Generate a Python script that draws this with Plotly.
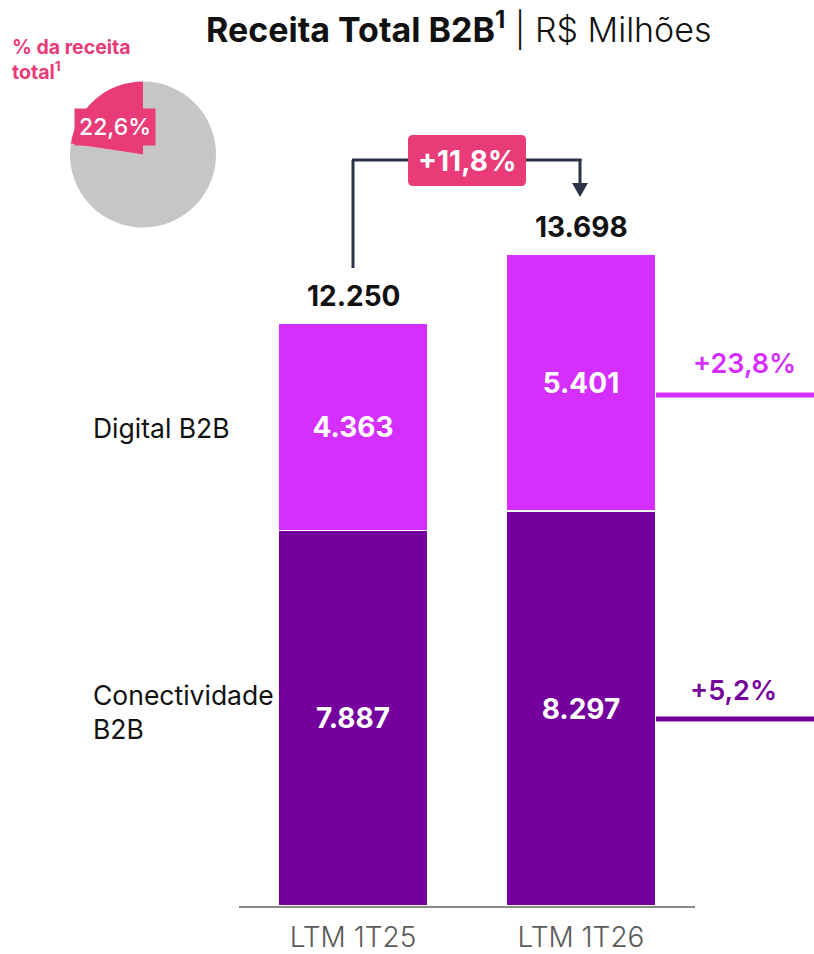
import plotly.graph_objects as go

# ---- data ----
categories = ["LTM 1T25", "LTM 1T26"]
conectividade = [7887, 8297]
digital = [4363, 5401]
totals = [c + d for c, d in zip(conectividade, digital)]
series_names = ["Conectividade<br>B2B", "Digital B2B"]
growth_total = "+11,8%"
growth_digital = "+23,8%"
growth_conect = "+5,2%"
pie_labels = ["Demais", "B2B"]
pie_share = [77.4, 22.6]
pie_label = "22,6%"

W, H = 814, 954
C_DIG = "#D42FFF"
C_CON = "#74009E"
C_PINK = "#E93B78"
C_NAVY = "#2B3445"
FONT = "Inter"


def px(x):
    return x / W


def py(y):
    return 1 - y / H


fig = go.Figure()

fig.add_trace(go.Bar(
    x=categories, y=conectividade, name="Conectividade B2B",
    marker=dict(color=C_CON, line=dict(color="white", width=1.5)),
    width=0.66, texttemplate="<b>%{y:,.0f}</b>", textposition="inside",
    insidetextanchor="middle",
    textfont=dict(family=FONT, size=28, color="white"),
    hoverinfo="skip",
))
fig.add_trace(go.Bar(
    x=categories, y=digital, name="Digital B2B",
    marker=dict(color=C_DIG, line=dict(color="white", width=1.5)),
    width=0.66, texttemplate="<b>%{y:,.0f}</b>", textposition="inside",
    insidetextanchor="middle",
    textfont=dict(family=FONT, size=28, color="white"),
    hoverinfo="skip",
))

fig.add_trace(go.Pie(
    labels=pie_labels, values=pie_share, sort=False, direction="clockwise", rotation=0,
    marker=dict(colors=["#C6C6C6", C_PINK]), textinfo="none",
    domain=dict(x=[px(70), px(216)], y=[py(228), py(81)]),
    showlegend=False, hoverinfo="skip",
))

ymax = 906 / (583 / totals[0])

fig.update_layout(
    width=W, height=H, margin=dict(l=0, r=0, t=0, b=0, autoexpand=False),
    paper_bgcolor="white", plot_bgcolor="white",
    barmode="stack", showlegend=False, separators=",.",
    uniformtext=dict(minsize=10, mode="show"),
    xaxis=dict(domain=[px(239), px(695)], range=[-0.5, 1.5], automargin=False,
               showline=True, linecolor="#8A8A8A", linewidth=1.5,
               ticks="", showgrid=False, zeroline=False, ticklabelstandoff=6,
               tickfont=dict(family=FONT, size=28, color="#5A5A5A", weight=300)),
    yaxis=dict(domain=[1 - 906 / H, 1], range=[0, ymax], visible=False,
               automargin=False, showgrid=False, zeroline=False),
    font=dict(family=FONT),
)


def note(x, y, text, size, color, xanchor="center", weight=None, **kw):
    f = dict(family=FONT, size=size, color=color)
    if weight:
        f["weight"] = weight
    d = dict(x=px(x), y=py(y), xref="paper", yref="paper", showarrow=False,
             xanchor=xanchor, yanchor="middle", text=text, font=f)
    d.update(kw)
    return d


ann = []
ann.append(note(459, 28, "<b>Receita Total B2B<sup>1</sup></b> | R$ Milhões",
                34, "#111111", weight=300))
ann.append(note(10, 60, "<b>% da receita<br>total<sup>1</sup></b>", 19.5, C_PINK,
                xanchor="left", align="left"))
ann.append(note(115, 127, pie_label, 23, "white", weight=500, bgcolor=C_PINK, borderpad=4))
for cat, tot in zip(categories, totals):
    ann.append(dict(x=cat, y=tot, xref="x", yref="y", showarrow=False,
                    xanchor="center", yanchor="bottom", yshift=8,
                    text="<b>" + f"{tot:,}".replace(",", ".") + "</b>",
                    font=dict(family=FONT, size=28, color="#111111")))
ann.append(note(91, 428, series_names[1], 26.5, "#111111", xanchor="left", align="left"))
ann.append(note(91, 712, series_names[0], 26.5, "#111111", xanchor="left", align="left"))
ann.append(note(744, 363, growth_digital, 27, C_DIG, weight=600))
ann.append(note(733, 690, growth_conect, 27, C_CON, weight=600))
ann.append(note(467, 161, "<b>" + growth_total + "</b>", 28, "white"))
fig.update_layout(annotations=ann)

shapes = []
line_n = dict(color=C_NAVY, width=3)
shapes.append(dict(type="line", xref="paper", yref="paper",
                   x0=px(353), x1=px(353), y0=py(268), y1=py(160), line=line_n))
shapes.append(dict(type="line", xref="paper", yref="paper",
                   x0=px(352), x1=px(581.5), y0=py(160), y1=py(160), line=line_n))
shapes.append(dict(type="line", xref="paper", yref="paper",
                   x0=px(580), x1=px(580), y0=py(159), y1=py(185), line=line_n))
shapes.append(dict(type="path", xref="paper", yref="paper",
                   path=f"M {px(572)} {py(183)} L {px(588)} {py(183)} L {px(580)} {py(197)} Z",
                   fillcolor=C_NAVY, line=dict(width=0)))
x0, x1, y0, y1, r = 408, 526, 135, 186, 5
path = (f"M {px(x0 + r)} {py(y0)} L {px(x1 - r)} {py(y0)} "
        f"Q {px(x1)} {py(y0)} {px(x1)} {py(y0 + r)} L {px(x1)} {py(y1 - r)} "
        f"Q {px(x1)} {py(y1)} {px(x1 - r)} {py(y1)} L {px(x0 + r)} {py(y1)} "
        f"Q {px(x0)} {py(y1)} {px(x0)} {py(y1 - r)} L {px(x0)} {py(y0 + r)} "
        f"Q {px(x0)} {py(y0)} {px(x0 + r)} {py(y0)} Z")
shapes.append(dict(type="path", xref="paper", yref="paper", path=path,
                   fillcolor=C_PINK, line=dict(width=0)))
shapes.append(dict(type="line", xref="paper", yref="paper",
                   x0=px(656), x1=1, y0=py(395), y1=py(395),
                   line=dict(color=C_DIG, width=5)))
shapes.append(dict(type="line", xref="paper", yref="paper",
                   x0=px(656), x1=1, y0=py(719), y1=py(719),
                   line=dict(color=C_CON, width=5)))
fig.update_layout(shapes=shapes)

fig.write_html("out.html", config={"displayModeBar": False},
               post_script="document.body.style.margin='0';document.body.style.overflow='hidden';")
